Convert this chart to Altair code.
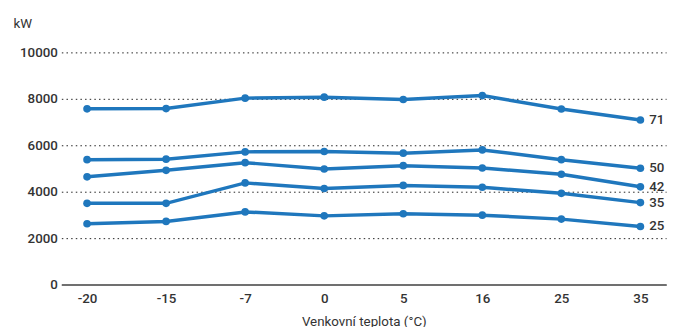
import altair as alt
import pandas as pd

temps = ["-20", "-15", "-7", "0", "5", "16", "25", "35"]
series = ["71", "50", "42", "35", "25"]
v71 = [7570, 7580, 8030, 8070, 7970, 8140, 7560, 7090]
v50 = [5380, 5400, 5715, 5730, 5660, 5800, 5380, 5010]
v42 = [4640, 4920, 5250, 4980, 5120, 5020, 4750, 4210]
v35 = [3500, 3500, 4380, 4140, 4270, 4190, 3930, 3530]
v25 = [2620, 2720, 3130, 2960, 3050, 2990, 2820, 2500]
values = [v71, v50, v42, v35, v25]

rows = []
for s, vals in zip(series, values):
    for t, v in zip(temps, vals):
        rows.append({"t": t, "kW": v, "s": s})
df = pd.DataFrame(rows)
last = df[df["t"] == temps[-1]]

color = "#1f77bd"
font = "Roboto"

x = alt.X("t:O", sort=temps, scale=alt.Scale(type="point", padding=0.325),
          axis=alt.Axis(title="Venkovní teplota (°C)", labelAngle=0, ticks=False,
                        domainColor="#707070", domainWidth=2, labelPadding=7,
                        labelFontSize=13.5, labelColor="#333", labelFont=font,
                        labelFontWeight=500, titleFont=font, titleFontSize=13.5,
                        titleFontWeight="normal", titleColor="#333", titlePadding=10))
y = alt.Y("kW:Q", scale=alt.Scale(domain=[0, 10000], nice=False),
          axis=alt.Axis(values=[0, 2000, 4000, 6000, 8000, 10000], format="d",
                        domain=False, ticks=False,
                        grid=True, gridDash=[1.5, 3.2], gridColor="#222", gridWidth=1,
                        labelPadding=4, labelFontSize=13.5, labelColor="#333",
                        labelFont=font, labelFontWeight=500,
                        title="kW", titleAngle=0, titleAlign="left", titleBaseline="alphabetic",
                        titleX=-49, titleY=-25, titleFont=font, titleFontSize=13.5,
                        titleFontWeight="normal", titleColor="#333"))

lines = alt.Chart(df).mark_line(color=color, strokeWidth=3.5).encode(
    x=x, y=y, detail="s:N")
pts = alt.Chart(df).mark_circle(color=color, size=60, opacity=1).encode(
    x=x, y=y, detail="s:N")
labels = alt.Chart(last).mark_text(align="left", baseline="middle", dx=9,
                                   font=font, fontSize=13.5, fontWeight=500, color="#333").encode(
    x=x, y=y, text="s:N")

chart = (lines + pts + labels).properties(
    width=612, height=235,
    autosize=alt.AutoSizeParams(type="none"),
    padding={"left": 54, "top": 43, "right": 8, "bottom": 41},
).configure_view(stroke=None)

chart.save("out.html", embed_options={"renderer": "svg", "actions": False})
